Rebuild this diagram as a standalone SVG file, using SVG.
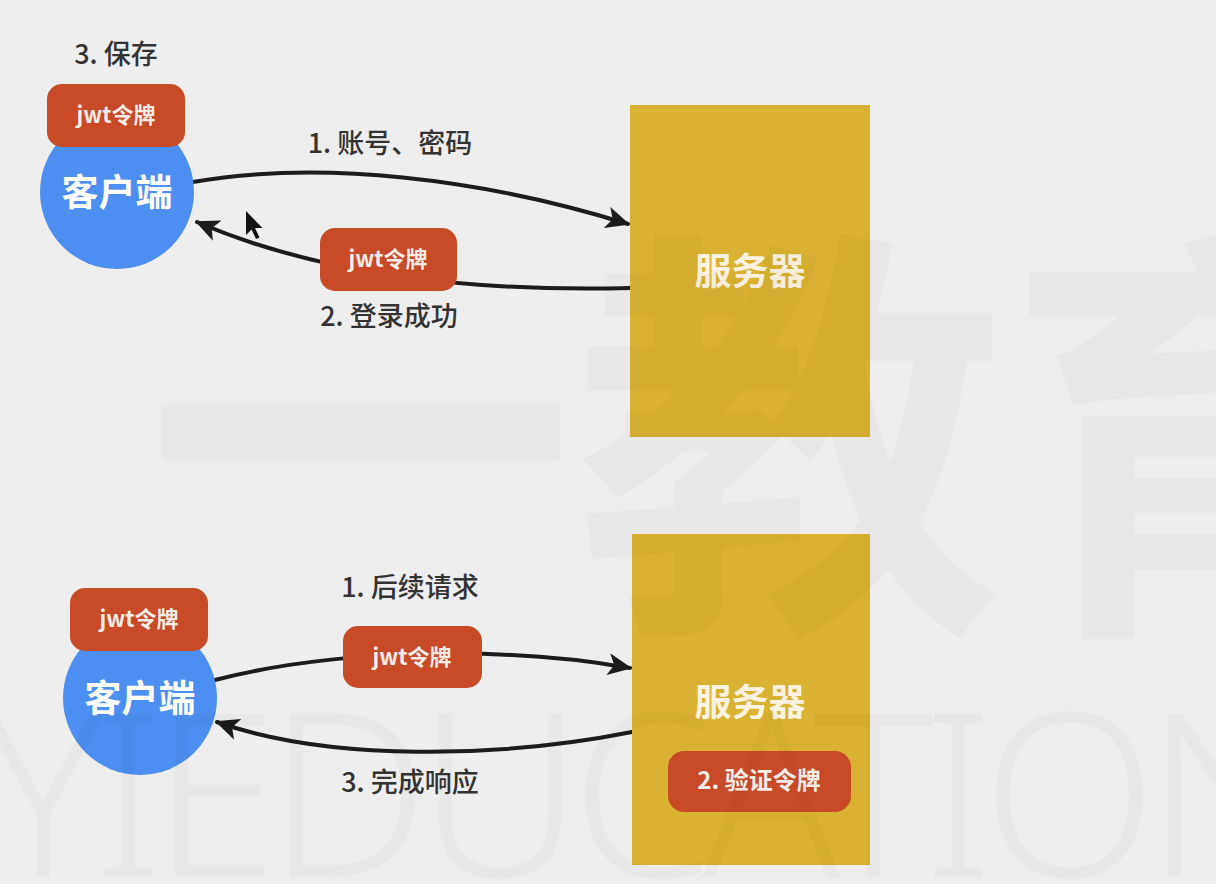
<svg xmlns="http://www.w3.org/2000/svg" width="1216" height="884" viewBox="0 0 1216 884">
  <defs>
    <style>
      .bg { fill: #eeeeee; }
      .label { font-family: "Noto Sans CJK SC", "Noto Sans", sans-serif; font-size: 27px; fill: #333333; font-weight: 500; text-anchor: middle; }
      .pill { fill: #c64b26; }
      .pilltext { font-family: "Noto Sans CJK SC", "Noto Sans", sans-serif; font-size: 22px; fill: #f6ece6; font-weight: 700; text-anchor: middle; }
      .client { fill: #4c8ff0; }
      .clienttext { font-family: "Noto Sans CJK SC", sans-serif; font-size: 37px; fill: #ffffff; font-weight: 700; text-anchor: middle; }
      .server { fill: #dab132; }
      .servertext { font-family: "Noto Sans CJK SC", sans-serif; font-size: 37px; fill: #fbf3df; font-weight: 700; text-anchor: middle; }
      .conn { fill: none; stroke: #1c1c1c; stroke-width: 4; stroke-linecap: round; }
      .wm { fill: #000000; fill-opacity: 0.025; }
    </style>
    <marker id="ah" viewBox="0 0 24 22" refX="22" refY="11" markerWidth="24" markerHeight="22" markerUnits="userSpaceOnUse" orient="auto">
      <path d="M0,0 L24,11 L0,22 L6,11 z" fill="#1c1c1c"/>
    </marker>
  </defs>

  <rect class="bg" x="0" y="0" width="1216" height="884"/>

  <g id="connectors">
    <path class="conn" d="M193,182 C 320,160 480,178 628,224" marker-end="url(#ah)"/>
    <path class="conn" d="M630,288 C 470,292 320,275 197,222" marker-end="url(#ah)"/>
    <path class="conn" d="M215,680 C 330,650 500,645 630,668" marker-end="url(#ah)"/>
    <path class="conn" d="M632,732 C 500,758 330,762 217,722" marker-end="url(#ah)"/>
  </g>

  <g id="label-save">
    <text class="label" x="116" y="64">3. 保存</text>
  </g>

  <g id="client-top">
    <circle class="client" cx="117" cy="192" r="77"/>
    <text class="clienttext" x="117" y="206">客户端</text>
  </g>
  <g id="token-top-client">
    <rect class="pill" x="47" y="84" width="138" height="63" rx="15"/>
    <text class="pilltext" x="116" y="123">jwt令牌</text>
  </g>

  <g id="server-top">
    <rect class="server" x="630" y="105" width="240" height="332"/>
    <text class="servertext" x="750" y="285">服务器</text>
  </g>

  <g id="label-login">
    <text class="label" x="390" y="153">1. 账号、密码</text>
  </g>
  <g id="token-top-response">
    <rect class="pill" x="320" y="228" width="137" height="63" rx="15"/>
    <text class="pilltext" x="388" y="267">jwt令牌</text>
  </g>
  <g id="label-success">
    <text class="label" x="389" y="326">2. 登录成功</text>
  </g>

  <g id="cursor">
    <path d="M246,211 L246,235 L251.5,229.5 L256,239 L259.5,237.5 L255,228 L262.5,228 z" fill="#111111"/>
  </g>

  <g id="client-bottom">
    <circle class="client" cx="140" cy="698" r="77"/>
    <text class="clienttext" x="140" y="712">客户端</text>
  </g>
  <g id="token-bottom-client">
    <rect class="pill" x="70" y="588" width="138" height="63" rx="15"/>
    <text class="pilltext" x="139" y="627">jwt令牌</text>
  </g>

  <g id="server-bottom">
    <rect class="server" x="632" y="534" width="238" height="331"/>
    <text class="servertext" x="750" y="716">服务器</text>
  </g>
  <g id="verify-token">
    <rect class="pill" x="668" y="751" width="183" height="61" rx="16"/>
    <text class="pilltext" x="759" y="789" style="font-size:24px">2. 验证令牌</text>
  </g>

  <g id="label-request">
    <text class="label" x="410" y="597">1. 后续请求</text>
  </g>
  <g id="token-bottom-request">
    <rect class="pill" x="343" y="626" width="139" height="62" rx="15"/>
    <text class="pilltext" x="412" y="665">jwt令牌</text>
  </g>
  <g id="label-response">
    <text class="label" x="410" y="792">3. 完成响应</text>
  </g>

  <g id="watermark">
    <text class="wm" x="145" y="600" font-family="Noto Sans CJK SC, sans-serif" font-weight="700" font-size="430">一教育</text>
    <text class="wm" x="-18" y="877" font-family="Noto Sans, sans-serif" font-weight="300" font-size="228" textLength="1330" lengthAdjust="spacing">YIEDUCATION</text>
  </g>
</svg>
